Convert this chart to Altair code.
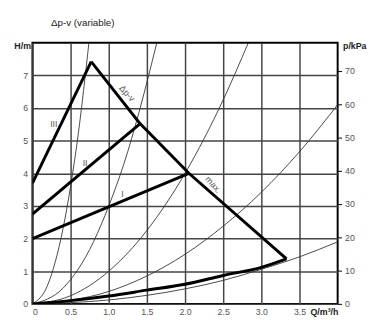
import altair as alt
import pandas as pd

# Axis ticks
x_ticks = [0, 0.5, 1.0, 1.5, 2.0, 2.5, 3.0, 3.5]
h_ticks = [0, 1, 2, 3, 4, 5, 6, 7]
p_ticks = [0, 10, 20, 30, 40, 50, 60, 70]

# Thin system curves
curve_a_q = [0, 0.2, 0.4, 0.5, 0.6, 0.74]
curve_a_h = [0, 0.58, 2.3, 3.6, 5.2, 8.0]
curve_b_q = [0, 0.4, 0.8, 1.0, 1.2, 1.4, 1.63]
curve_b_h = [0, 0.48, 1.9, 3.0, 4.3, 5.9, 8.0]
curve_c_q = [0, 0.5, 1.0, 1.5, 2.0, 2.5, 2.83]
curve_c_h = [0, 0.25, 1.0, 2.25, 4.0, 6.25, 8.0]
curve_d_q = [0, 1.0, 2.0, 2.5, 3.0, 3.5, 4.0]
curve_d_h = [0, 0.38, 1.52, 2.38, 3.42, 4.66, 6.1]
curve_e_q = [0, 1.0, 2.0, 2.5, 3.0, 3.5, 4.0]
curve_e_h = [0, 0.12, 0.46, 0.72, 1.06, 1.44, 1.9]

# Thick control lines
line_iii_q = [0, 0.77]
line_iii_h = [3.7, 7.42]
line_ii_q = [0, 1.40]
line_ii_h = [2.75, 5.5]
line_i_q = [0, 2.05]
line_i_h = [2.0, 4.0]
dpv_q = [0.77, 1.40, 2.05, 3.33]
dpv_h = [7.42, 5.55, 4.0, 1.38]
min_q = [0, 0.5, 1.0, 1.5, 2.0, 2.5, 3.0, 3.33]
min_h = [0, 0.1, 0.24, 0.42, 0.6, 0.87, 1.12, 1.38]

# Labels
label_text = ["III", "II", "I"]
label_q = [0.28, 0.69, 1.18]
label_h = [5.5, 4.3, 3.35]

FONT = "Liberation Sans"
GRID = "#444"


def frame(name, qs, hs):
    return pd.DataFrame({"q": qs, "h": hs, "curve": name, "order": range(len(qs))})


thin = pd.concat([
    frame("a", curve_a_q, curve_a_h),
    frame("b", curve_b_q, curve_b_h),
    frame("c", curve_c_q, curve_c_h),
    frame("d", curve_d_q, curve_d_h),
    frame("e", curve_e_q, curve_e_h),
])
straight = pd.concat([
    frame("iii", line_iii_q, line_iii_h),
    frame("ii", line_ii_q, line_ii_h),
    frame("i", line_i_q, line_i_h),
    frame("dpv", dpv_q, dpv_h),
])
minimum = frame("min", min_q, min_h)

xscale = alt.Scale(domain=[0, 4], nice=False, zero=False)
yscale = alt.Scale(domain=[0, 8], nice=False, zero=False)

xaxis = alt.Axis(
    values=x_ticks, grid=True, gridColor=GRID, gridWidth=1.5,
    ticks=False, domain=False, labelPadding=4, labelFontSize=9,
    labelColor="#555", labelFont=FONT, labelOverlap=False,
    labelExpr="datum.value == 0 ? '0' : format(datum.value, '.1f')",
    title="Q/m³/h", titleFont=FONT, titleFontSize=9, titleFontWeight="bold",
    titleColor="#222", titleAngle=0, titleX=298, titleY=4,
    titleAlign="center", titleBaseline="top",
)
yaxis = alt.Axis(
    values=h_ticks, grid=True, gridColor=GRID, gridWidth=1.5,
    ticks=False, domain=False, labelPadding=5, labelFontSize=9,
    labelColor="#555", labelFont=FONT, labelOverlap=False,
    title="H/m", titleFont=FONT, titleFontSize=9, titleFontWeight="bold",
    titleColor="#222", titleAngle=0, titleX=-2, titleY=3,
    titleAlign="right", titleBaseline="middle",
)

X = alt.X("q:Q", scale=xscale, axis=xaxis)
Y = alt.Y("h:Q", scale=yscale, axis=yaxis)

thin_layer = alt.Chart(thin).mark_line(
    color="#333", strokeWidth=0.9, clip=True, interpolate="monotone"
).encode(x=X, y=Y, detail="curve:N", order="order:Q")

straight_layer = alt.Chart(straight).mark_line(
    color="black", strokeWidth=3, clip=True, strokeJoin="miter"
).encode(x=X, y=Y, detail="curve:N", order="order:Q")

min_layer = alt.Chart(minimum).mark_line(
    color="black", strokeWidth=3, clip=True, interpolate="monotone"
).encode(x=X, y=Y, order="order:Q")

labels_df = pd.DataFrame({"q": label_q, "h": label_h, "t": label_text})
labels = alt.Chart(labels_df).mark_text(
    font=FONT, fontSize=9, fill="#555", align="center", baseline="middle"
).encode(x=X, y=Y, text="t:N")

rot_df = pd.DataFrame({"q": [1.24, 2.37], "h": [6.45, 3.65], "t": ["Δp-v", "max."]})
rot_labels = alt.Chart(rot_df).mark_text(
    font=FONT, fontSize=9, fill="#555", align="center", baseline="middle", angle=48
).encode(x=X, y=Y, text="t:N")

left = alt.layer(thin_layer, straight_layer, min_layer, labels, rot_labels)

p_df = pd.DataFrame({"p": p_ticks})
right = alt.Chart(p_df).mark_point(opacity=0).encode(
    y=alt.Y(
        "p:Q",
        scale=alt.Scale(domain=[0, 78.48], nice=False, zero=False),
        axis=alt.Axis(
            orient="right", values=p_ticks, grid=False, domain=False,
            ticks=True, tickSize=4, tickColor="black", tickWidth=1,
            labelPadding=3, labelFontSize=9, labelColor="#555", labelFont=FONT,
            title="p/kPa", titleFont=FONT, titleFontSize=9, titleFontWeight="bold",
            titleColor="#222", titleAngle=0, titleX=5, titleY=3,
            titleAlign="left", titleBaseline="middle",
        ),
    )
)

chart = alt.layer(left, right).resolve_scale(y="independent").properties(
    width=312,
    height=267,
    autosize=alt.AutoSizeParams(type="none"),
    padding={"left": 25, "top": 32, "right": 30, "bottom": 13},
    title=alt.TitleParams(
        "Δp-v (variable)", anchor="start", frame="group", dx=19, offset=14,
        font=FONT, fontSize=10, fontWeight="normal", color="#222",
    ),
).configure_view(stroke="black", strokeWidth=2)

chart.save("out.html", embed_options={"renderer": "svg", "actions": False})
